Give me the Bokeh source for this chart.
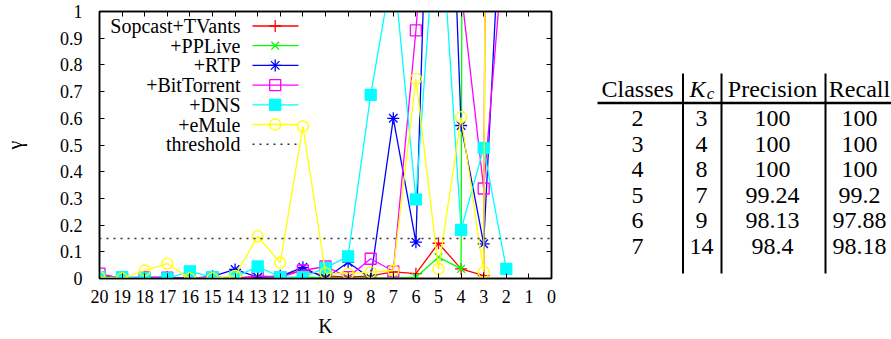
from bokeh.plotting import figure
from bokeh.models import Range1d, LinearAxis, FixedTicker, NumeralTickFormatter, Span, ColumnDataSource
from bokeh.layouts import row
from bokeh.embed import file_html
from bokeh.resources import INLINE
from bokeh.core.properties import value

# ---------------- data ----------------
K = [20, 19, 18, 17, 16, 15, 14, 13, 12, 11, 10, 9, 8, 7, 6, 5, 4, 3, 2]
series_names = ["Sopcast+TVants", "+PPLive", "+RTP", "+BitTorrent", "+DNS", "+eMule"]
sopcast_tvants = [0.005, 0.003, 0.002, 0.002, 0.003, 0.002, 0.003, 0.005, 0.01, 0.03, 0.01, 0.005, 0.01, 0.025, 0.018, 0.132, 0.036, 0.011, 20]
pplive = [0.002, 0.001, 0.001, 0.001, 0.001, 0.001, 0.001, 0.002, 0.002, 0.005, 0.003, 0.002, 0.002, 0.0, 0.005, 0.08, 0.036, 30, 40]
rtp = [0.01, 0.005, 0.004, 0.005, 0.0, 0.008, 0.034, 0.005, 0.008, 0.042, 0.0, 0.061, 0.0, 0.60, 0.136, 2.85, 0.573, 0.13, 1.8]
bittorrent = [0.018, 0.0, 0.004, 0.003, 0.0, 0.005, 0.0, 0.01, 0.005, 0.03, 0.045, 0.005, 0.074, 0.027, 0.929, 2.0, 1.08, 0.337, 1.36]
dns = [0.005, 0.005, 0.0, 0.0, 0.027, 0.005, 0.005, 0.045, 0.005, 0.005, 0.04, 0.083, 0.688, 1.18, 0.296, 1.49, 0.182, 0.489, 0.036]
emule = [0.005, 0.0, 0.03, 0.056, 0.0, 0.0, 0.01, 0.158, 0.059, 0.57, 0.02, 0.018, 0.024, 0.03, 0.748, 0.036, 0.604, 0.024, 20]
threshold = 0.15

x_ticks = list(range(0, 21))
y_ticks = [0, 0.1, 0.2, 0.3, 0.4, 0.5, 0.6, 0.7, 0.8, 0.9, 1]

table_header = ["Classes", "K", "Precision", "Recall"]
table_classes = ["2", "3", "4", "5", "6", "7"]
table_kc = ["3", "4", "8", "7", "9", "14"]
table_precision = ["100", "100", "100", "99.24", "98.13", "98.4"]
table_recall = ["100", "100", "100", "99.2", "97.88", "98.18"]

# ---------------- styles / layout ----------------
colors = ["#ff0000", "#00ff00", "#0000ff", "#ff00ff", "#00ffff", "#ffff00"]
markers = ["cross", "x", "asterisk", "square", "square", "circle"]
fills = [None, None, None, None, "#00ffff", None]
sizes = [12, 11, 12, 11, 11, 11]
FONT = "Liberation Serif"
FS = "20px"
TICK_FS = "18px"

FRAME_L, FRAME_T = 91, 11
FRAME_W, FRAME_H = 452, 267
RIGHT_PAD = 10
PAGE_W, PAGE_H = 891, 339
BOTTOM = PAGE_H - FRAME_T - FRAME_H
X_LO, X_HI, Y_LO, Y_HI = 20, 0, 0, 1


def kx(px):
    return X_LO + (X_HI - X_LO) * px / FRAME_W


def gy(py):
    return Y_HI - (Y_HI - Y_LO) * py / FRAME_H


def mirror_axis(ticks):
    return LinearAxis(ticker=FixedTicker(ticks=ticks),
                      major_label_overrides={t: "" for t in ticks},
                      major_label_text_color=None, major_label_text_font_size="1px",
                      major_tick_in=5, major_tick_out=0, major_label_standoff=0,
                      minor_tick_line_color=None, axis_line_color="black",
                      axis_line_width=1.5)


p = figure(frame_width=FRAME_W, frame_height=FRAME_H,
           x_range=Range1d(X_LO, X_HI), y_range=Range1d(Y_LO, Y_HI),
           output_backend="svg", toolbar_location=None,
           min_border_left=FRAME_L, min_border_top=FRAME_T, min_border_right=RIGHT_PAD,
           min_border_bottom=BOTTOM)
p.xgrid.visible = False
p.ygrid.visible = False
p.outline_line_color = "black"
p.outline_line_width = 1.5
p.background_fill_color = "white"
p.border_fill_color = "white"

for ax, ticks in ((p.xaxis[0], x_ticks), (p.yaxis[0], y_ticks)):
    ax.ticker = FixedTicker(ticks=ticks)
    ax.major_tick_in = 5
    ax.major_tick_out = 0
    ax.minor_tick_line_color = None
    ax.axis_line_color = "black"
    ax.axis_line_width = 1.5
    ax.major_tick_line_color = "black"
    ax.major_label_text_font = FONT
    ax.major_label_text_font_size = TICK_FS
    ax.major_label_text_color = "black"
    ax.axis_label_text_font = FONT
    ax.axis_label_text_font_size = FS
    ax.axis_label_text_font_style = "normal"
    ax.axis_label_text_color = "black"

p.xaxis.axis_label = "K"
p.xaxis.major_label_standoff = 11
p.xaxis.axis_label_standoff = 9
p.yaxis.axis_label = "γ"
p.yaxis.major_label_standoff = 17
p.yaxis.axis_label_standoff = 31
p.yaxis.formatter = NumeralTickFormatter(format="0.[0]")

p.add_layout(mirror_axis(x_ticks), "above")
p.add_layout(mirror_axis(y_ticks), "right")

# threshold
p.add_layout(Span(location=threshold, dimension="width", line_color="#333333",
                  line_dash="2 5", line_width=1.5))

all_series = [sopcast_tvants, pplive, rtp, bittorrent, dns, emule]
for vals, c, m, f, s in zip(all_series, colors, markers, fills, sizes):
    src = ColumnDataSource(dict(k=K, v=vals))
    p.line("k", "v", source=src, line_color=c, line_width=1.3)
    p.scatter("k", "v", source=src, marker=m, size=s, line_color=c, line_width=1.3,
              fill_color=f)

# manual gnuplot-style legend (label left, sample right); positions in px from frame top-left
LEG_TEXT_PX = 141
LEG_L0, LEG_L1, LEG_M = 153, 199, 175.7
LEG_ROW0, LEG_DY = 14.5, 19.7
leg_rows = [gy(LEG_ROW0 + i * LEG_DY) for i in range(7)]
p.text(x=[kx(LEG_TEXT_PX)] * 7, y=leg_rows, text=series_names + ["threshold"],
       text_align="right", text_baseline="middle", text_font=value(FONT),
       text_font_size=value(FS), text_color="black")
for i, (c, m, f, s) in enumerate(zip(colors, markers, fills, sizes)):
    p.line([kx(LEG_L0), kx(LEG_L1)], [leg_rows[i]] * 2, line_color=c, line_width=1.3)
    p.scatter([kx(LEG_M)], [leg_rows[i]], marker=m, size=s, line_color=c, line_width=1.3, fill_color=f)
p.line([kx(LEG_L0), kx(LEG_L1)], [leg_rows[6]] * 2, line_color="#333333", line_dash="2 5", line_width=1.5)

# ---------------- table (separate figure, data units = page pixels) ----------------
T_X0 = FRAME_L + FRAME_W + RIGHT_PAD
TW = PAGE_W - T_X0
t = figure(frame_width=TW, frame_height=FRAME_H,
           x_range=Range1d(T_X0, PAGE_W), y_range=Range1d(FRAME_T + FRAME_H, FRAME_T),
           output_backend="svg", toolbar_location=None,
           min_border_left=0, min_border_right=0, min_border_top=FRAME_T, min_border_bottom=BOTTOM,
           x_axis_type=None, y_axis_type=None)
t.xgrid.visible = False
t.ygrid.visible = False
t.outline_line_color = None
t.background_fill_color = "white"
t.border_fill_color = "white"

col_x = [629, 693, 764, 851]
head_y = 88
row_y = [118 + i * 25.5 for i in range(len(table_classes))]
TFS = "24px"

hdr = ColumnDataSource(dict(x=[col_x[0], col_x[2], col_x[3]], y=[head_y] * 3,
                            text=[table_header[0], table_header[2], table_header[3]]))
t.text("x", "y", "text", source=hdr, text_align="center", text_baseline="middle",
       text_font=value(FONT), text_font_size=value(TFS), text_color="black")
t.text(x=[col_x[1] - 4], y=[head_y], text=[table_header[1]], text_align="center",
       text_baseline="middle", text_font=value(FONT), text_font_size=value(TFS),
       text_font_style="italic", text_color="black")
t.text(x=[col_x[1] + 9], y=[head_y + 5], text=["c"], text_align="center",
       text_baseline="middle", text_font=value(FONT), text_font_size=value("17px"),
       text_font_style="italic", text_color="black")

for cx, colvals in zip(col_x, [table_classes, table_kc, table_precision, table_recall]):
    src = ColumnDataSource(dict(x=[cx] * len(colvals), y=row_y, text=colvals))
    t.text("x", "y", "text", source=src, text_align="center", text_baseline="middle",
           text_font=value(FONT), text_font_size=value(TFS), text_color="black")

# rules
t.segment(x0=[589], y0=[102.5], x1=[886], y1=[102.5], line_color="black", line_width=2.5)
vx = [674.5, 713, 817]
t.segment(x0=vx, y0=[73] * 3, x1=vx, y1=[273] * 3, line_color="black", line_width=2)

layout = row(p, t)
open("out.html", "w").write(file_html(layout, INLINE))
